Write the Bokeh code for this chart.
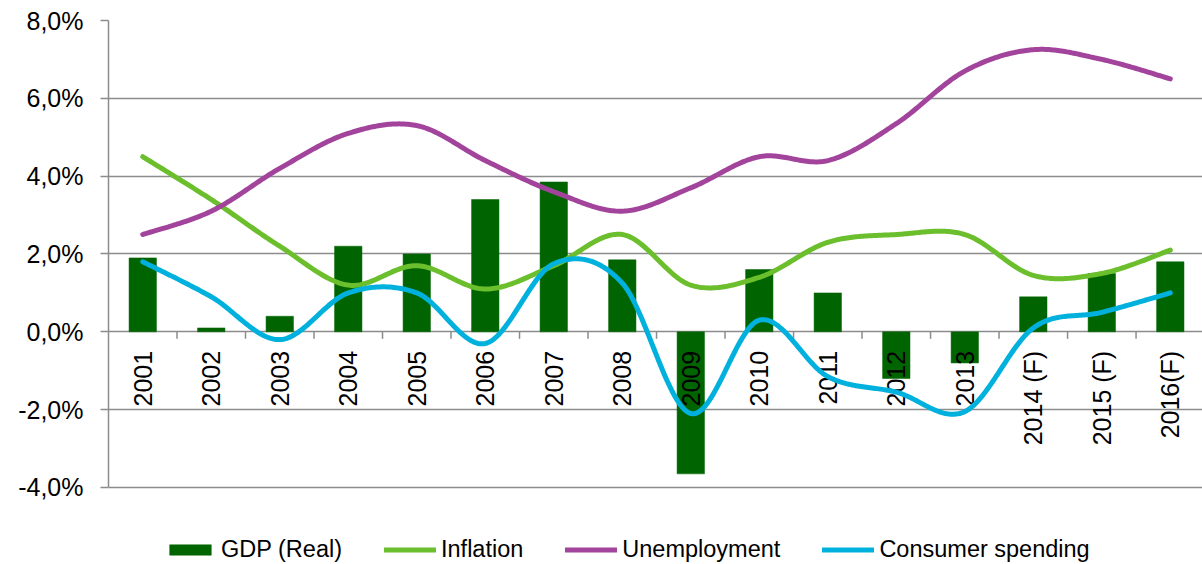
import numpy as np
from bokeh.plotting import figure
from bokeh.models import Range1d, FixedTicker, Legend, LegendItem
from bokeh.core.properties import value
from bokeh.embed import file_html
from bokeh.resources import INLINE

years = ["2001", "2002", "2003", "2004", "2005", "2006", "2007", "2008",
         "2009", "2010", "2011", "2012", "2013", "2014 (F)", "2015 (F)", "2016(F)"]
gdp = [1.9, 0.1, 0.4, 2.2, 2.0, 3.4, 3.85, 1.85, -3.65, 1.6, 1.0, -1.2, -0.8, 0.9, 1.5, 1.8]
inflation = [4.5, 3.4, 2.2, 1.2, 1.7, 1.1, 1.7, 2.5, 1.2, 1.4, 2.3, 2.5, 2.5, 1.45, 1.5, 2.1]
unemployment = [2.5, 3.1, 4.2, 5.1, 5.3, 4.4, 3.6, 3.1, 3.7, 4.5, 4.4, 5.35, 6.7, 7.25, 7.0, 6.5]
consumer = [1.8, 0.9, -0.2, 1.0, 1.0, -0.3, 1.75, 1.25, -2.1, 0.3, -1.15, -1.55, -2.05, 0.1, 0.5, 1.0]
y_ticks = [-4, -2, 0, 2, 4, 6, 8]
y_tick_labels = ["-4,0%", "-2,0%", "0,0%", "2,0%", "4,0%", "6,0%", "8,0%"]

C_GDP = "#006400"
C_INF = "#6BBE2C"
C_UNE = "#A3449C"
C_CON = "#00B1DD"
GRID = "#8C8C8C"
FONT = "Liberation Sans"

x = np.arange(len(years), dtype=float)


def smooth(xs, ys, n=40):
    xs = np.asarray(xs, float)
    ys = np.asarray(ys, float)
    px = np.concatenate([[xs[0]], xs, [xs[-1]]])
    py = np.concatenate([[ys[0]], ys, [ys[-1]]])
    outx, outy = [], []
    t = np.linspace(0, 1, n)
    for i in range(len(xs) - 1):
        p0x, p1x, p2x, p3x = px[i], px[i + 1], px[i + 2], px[i + 3]
        p0y, p1y, p2y, p3y = py[i], py[i + 1], py[i + 2], py[i + 3]
        c1x = p1x + (p2x - p0x) / 6.0
        c1y = p1y + (p2y - p0y) / 6.0
        c2x = p2x - (p3x - p1x) / 6.0
        c2y = p2y - (p3y - p1y) / 6.0
        b0 = (1 - t) ** 3
        b1 = 3 * t * (1 - t) ** 2
        b2 = 3 * t ** 2 * (1 - t)
        b3 = t ** 3
        outx.append(b0 * p1x + b1 * c1x + b2 * c2x + b3 * p2x)
        outy.append(b0 * p1y + b1 * c1y + b2 * c2y + b3 * p2y)
    return np.concatenate(outx), np.concatenate(outy)


# frame spans down to the bottom of the page so that the legend can sit inside it;
# the y axis itself is bounded to -4..8
p = figure(width=1202, height=564, output_backend="svg", toolbar_location=None,
           x_range=Range1d(-0.5, 15.47), y_range=Range1d(-5.979, 8),
           min_border_left=108, min_border_right=0, min_border_top=20,
           min_border_bottom=0)
p.outline_line_color = None
p.background_fill_color = "white"
p.border_fill_color = "white"

p.xaxis.visible = False
p.xgrid.visible = False

p.yaxis.bounds = (-4, 8)
p.yaxis.ticker = FixedTicker(ticks=y_ticks)
p.ygrid.ticker = FixedTicker(ticks=y_ticks)
p.yaxis.major_label_overrides = {t: l for t, l in zip(y_ticks, y_tick_labels)}
p.yaxis.major_label_text_font = FONT
p.yaxis.major_label_text_font_size = "25px"
p.yaxis.major_label_text_color = "black"
p.yaxis.major_label_standoff = 17
p.yaxis.major_tick_out = 8
p.yaxis.major_tick_in = 0
p.yaxis.minor_tick_out = 0
p.yaxis.minor_tick_in = 0
p.yaxis.axis_line_color = GRID
p.yaxis.axis_line_width = 1.5
p.yaxis.major_tick_line_color = GRID
p.yaxis.major_tick_line_width = 1.5
p.ygrid.grid_line_color = GRID
p.ygrid.grid_line_width = 1.5

# bars
bars = p.vbar(x=x, top=gdp, width=0.4, bottom=0, fill_color=C_GDP, line_color=C_GDP,
              line_width=0.5)

# category tick marks along the 0 line
bounds = x[:-1] + 0.5
p.segment(x0=bounds, y0=[0] * len(bounds), x1=bounds, y1=[-0.18] * len(bounds),
          line_color=GRID, line_width=1.5)

# category labels
p.text(x=x, y=[0] * len(x), text=years, angle=np.pi / 2, text_align="right",
       text_baseline="middle", y_offset=19, text_font=value(FONT),
       text_font_size="25px", text_color="black")

# lines
sx, sy = smooth(x, inflation)
l_inf = p.line(sx, sy, line_color=C_INF, line_width=5, line_cap="round", line_join="round")
sx, sy = smooth(x, unemployment)
l_une = p.line(sx, sy, line_color=C_UNE, line_width=5, line_cap="round", line_join="round")
sx, sy = smooth(x, consumer)
l_con = p.line(sx, sy, line_color=C_CON, line_width=5, line_cap="round", line_join="round")

legend = Legend(items=[
    LegendItem(label="GDP (Real)", renderers=[bars]),
    LegendItem(label="Inflation", renderers=[l_inf]),
    LegendItem(label="Unemployment", renderers=[l_une]),
    LegendItem(label="Consumer spending", renderers=[l_con]),
], orientation="horizontal", location=(56, 1), padding=0, margin=0,
    spacing=42, label_standoff=5, glyph_width=52, glyph_height=13,
    label_text_font=FONT, label_text_font_size="23.5px", label_text_color="black",
    border_line_color=None, background_fill_alpha=0)
p.add_layout(legend, "center")

open("out.html", "w").write(file_html(p, INLINE))
